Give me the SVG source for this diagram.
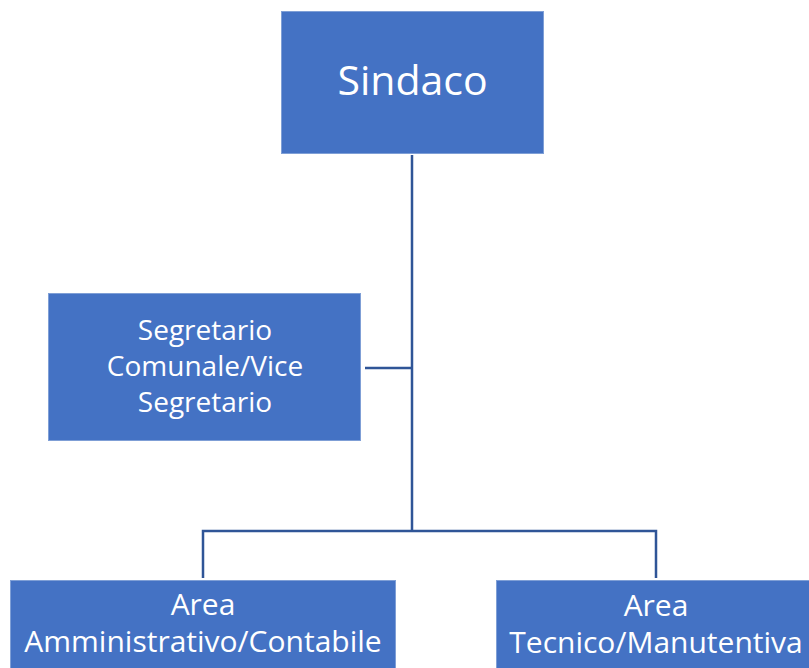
<svg xmlns="http://www.w3.org/2000/svg" width="809" height="668" viewBox="0 0 809 668">
<style>
.box{fill:#4472C4;stroke:#7F9FD6;stroke-width:1}
.t{fill:#FFFFFF;font-family:"Open Sans","Noto Sans","Liberation Sans",sans-serif;text-anchor:middle}
.c{fill:none;stroke:#2F5597;stroke-width:2.5}
</style>
<rect width="809" height="668" fill="#FFFFFF"/>
<g id="connectors">
<path class="c" d="M412 155 V531"/>
<path class="c" d="M365 368 H412"/>
<path class="c" d="M203 578 V531 H656 V578"/>
</g>
<g id="sindaco">
<rect class="box" x="281.5" y="11.5" width="262" height="142"/>
<text class="t" x="412.5" y="95" font-size="41">Sindaco</text>
</g>
<g id="segretario">
<rect class="box" x="48.5" y="293.5" width="312" height="147"/>
<text class="t" x="205" y="340" font-size="28">Segretario</text>
<text class="t" x="205" y="376" font-size="28">Comunale/Vice</text>
<text class="t" x="205" y="412" font-size="28">Segretario</text>
</g>
<g id="area-amm">
<rect class="box" x="10.5" y="580.5" width="385" height="100"/>
<text class="t" x="203" y="615" font-size="30">Area</text>
<text class="t" x="203" y="652" font-size="30">Amministrativo/Contabile</text>
</g>
<g id="area-tec">
<rect class="box" x="496.5" y="580.5" width="320" height="100"/>
<text class="t" x="656" y="616" font-size="30">Area</text>
<text class="t" x="656" y="653" font-size="30">Tecnico/Manutentiva</text>
</g>
</svg>
